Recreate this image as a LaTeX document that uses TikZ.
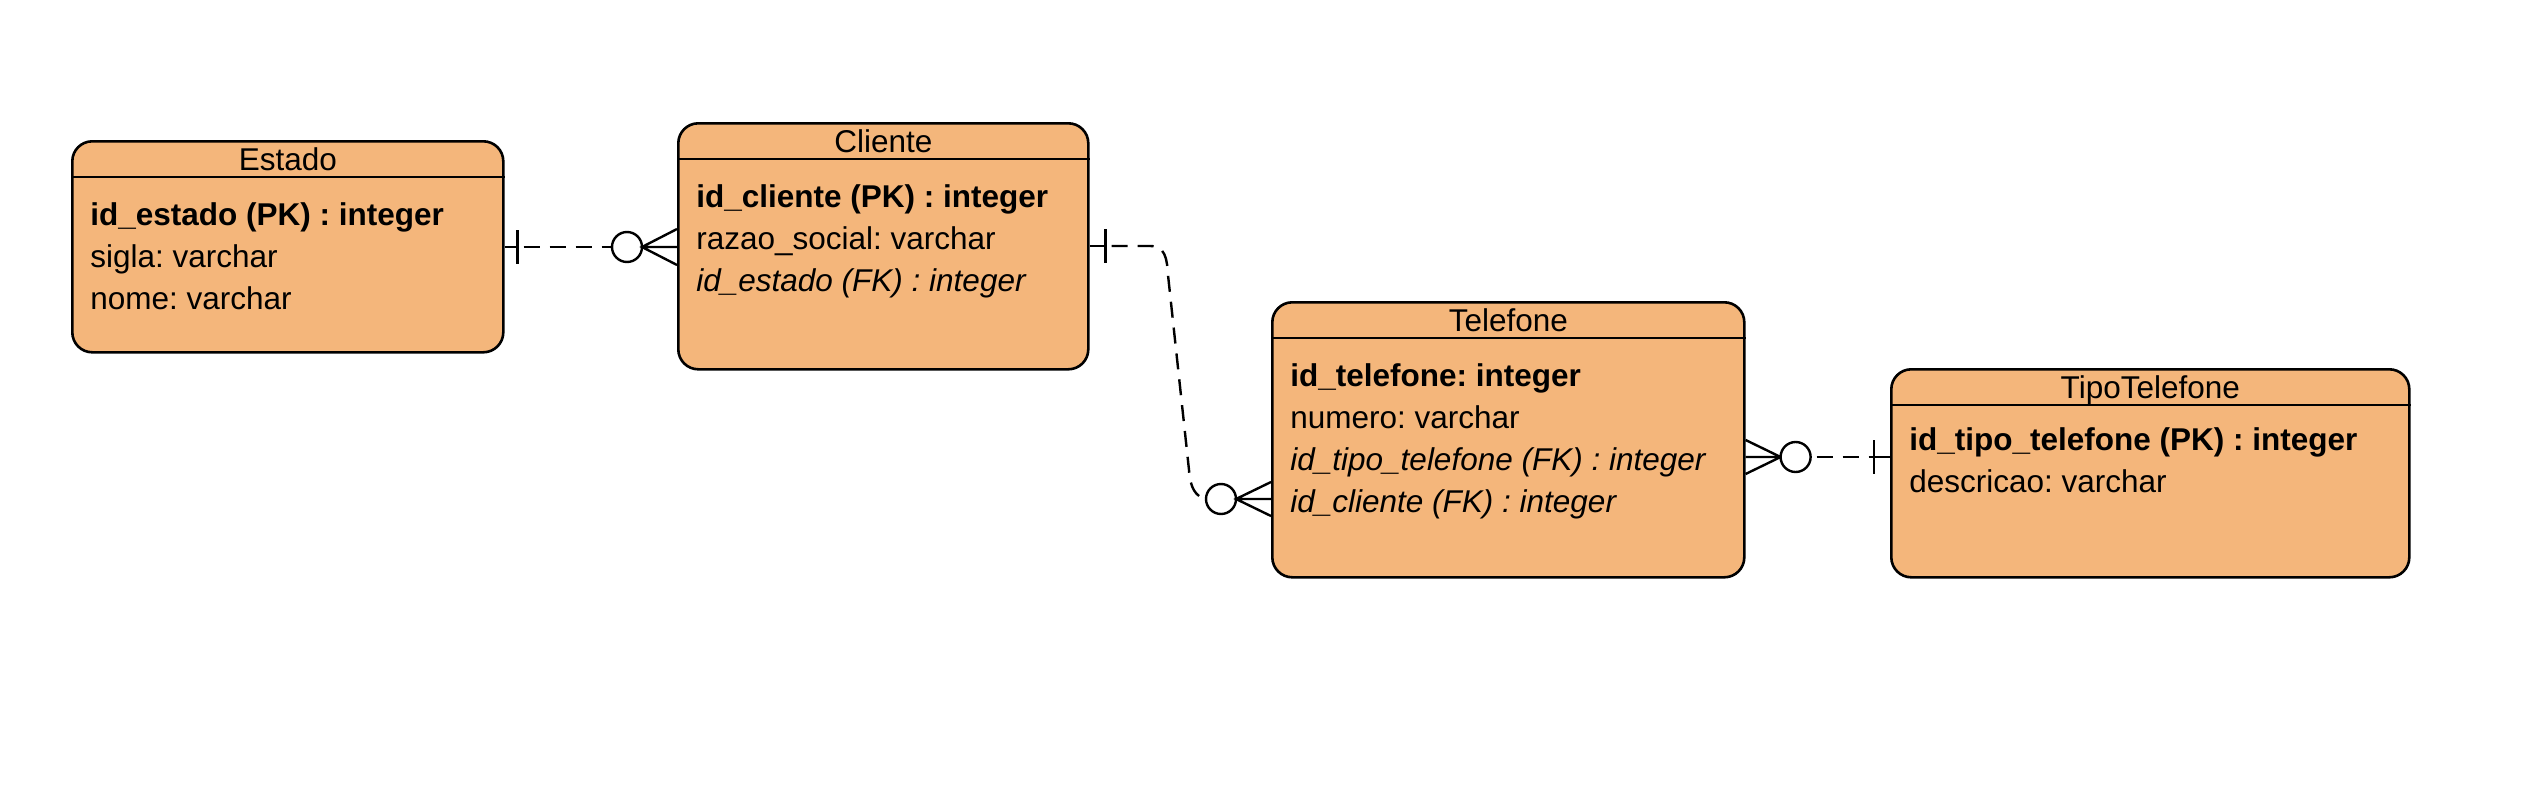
\documentclass[tikz,border=0pt]{standalone}
\usepackage{fontspec}
\setmainfont{Liberation Sans}
\usetikzlibrary{positioning}
\definecolor{entfill}{HTML}{F4B67B}
\frenchspacing

\begin{document}
\begin{tikzpicture}[
  x=0.5pt, y=-0.5pt,
  font=\fontsize{15.75}{21}\selectfont,
  entity/.style={rectangle, draw, rounded corners=10pt, fill=entfill, line width=1.3pt, anchor=north west, inner sep=0pt},
  sepline/.style={line width=1.3pt},
  title/.style={anchor=base, inner sep=0pt},
  attrs/.style={anchor=north west, align=left, inner sep=0pt},
  rel/.style={line width=1.2pt},
  reldash/.style={rel, dash pattern=on 8pt off 5pt, dash phase=10pt}
]
  \useasboundingbox (0,0) rectangle (2522,787);
  % entidades
  \node[entity, minimum width=215.5pt, minimum height=105.5pt] (estado) at (71,140) {};
  \node[entity, minimum width=205pt, minimum height=123pt] (cliente) at (677,122) {};
  \node[entity, minimum width=236pt, minimum height=137.5pt] (telefone) at (1271,301) {};
  \node[entity, minimum width=259pt, minimum height=104pt] (tipotelefone) at (1890,368) {};
  \draw[sepline] ([yshift=-18.5pt]estado.north west) -- ([yshift=-18.5pt]estado.north east);
  \draw[sepline] ([yshift=-18.5pt]cliente.north west) -- ([yshift=-18.5pt]cliente.north east);
  \draw[sepline] ([yshift=-18.5pt]telefone.north west) -- ([yshift=-18.5pt]telefone.north east);
  \draw[sepline] ([yshift=-18.5pt]tipotelefone.north west) -- ([yshift=-18.5pt]tipotelefone.north east);
  \node[title] (estado-title) at ([yshift=-15pt]estado.north) {Estado};
  \node[title] (cliente-title) at ([yshift=-15pt]cliente.north) {Cliente};
  \node[title] (telefone-title) at ([yshift=-15pt]telefone.north) {Telefone};
  \node[title] (tipotelefone-title) at ([yshift=-15pt]tipotelefone.north) {TipoTelefone};
  \node[attrs] (estado-attrs) at ([xshift=9.5pt, yshift=-31pt]estado.north west)
    {\textbf{id\_estado (PK) : integer}\\ sigla: varchar\\ nome: varchar};
  \node[attrs] (cliente-attrs) at ([xshift=9.5pt, yshift=-31pt]cliente.north west)
    {\textbf{id\_cliente (PK) : integer}\\ razao\_social: varchar\\ \textit{id\_estado (FK) : integer}};
  \node[attrs] (telefone-attrs) at ([xshift=9.5pt, yshift=-31pt]telefone.north west)
    {\textbf{id\_telefone: integer}\\ numero: varchar\\ \textit{id\_tipo\_telefone (FK) : integer}\\ \textit{id\_cliente (FK) : integer}};
  \node[attrs] (tipotelefone-attrs) at ([xshift=9.5pt, yshift=-29.5pt]tipotelefone.north west)
    {\textbf{id\_tipo\_telefone (PK) : integer}\\ descricao: varchar};
  % Estado -- Cliente
  \coordinate (ec-a) at (estado.east |- 0,247);
  \coordinate (ec-b) at (cliente.west |- 0,247);
  \draw[rel] (ec-a) -- ([xshift=6.5pt]ec-a) coordinate (ec-bar);
  \draw[rel] ([yshift=8.5pt]ec-bar) -- ([yshift=-8.5pt]ec-bar);
  \draw[reldash] (ec-bar) -- ([xshift=-32.5pt]ec-b);
  \draw[rel, fill=white] ([xshift=-25pt]ec-b) circle[radius=7.5pt];
  \draw[rel] ([yshift=9pt]ec-b) -- ([xshift=-17.5pt]ec-b) -- ([yshift=-9pt]ec-b) (ec-b) -- ([xshift=-17.5pt]ec-b);
  % Cliente -- Telefone
  \coordinate (ct-a) at (cliente.east |- 0,246);
  \coordinate (ct-b) at (telefone.west |- 0,499);
  \draw[rel] (ct-a) -- ([xshift=8pt]ct-a) coordinate (ct-bar);
  \draw[rel] ([yshift=8.5pt]ct-bar) -- ([yshift=-8.5pt]ct-bar);
  \draw[reldash] (ct-bar) -- (1150,246) .. controls (1165,246) and (1167,258) .. (1168,275)
    -- (1189,470) .. controls (1190,488) and (1196,497) .. ([xshift=-32.5pt]ct-b);
  \draw[rel, fill=white] ([xshift=-25pt]ct-b) circle[radius=7.5pt];
  \draw[rel] ([yshift=8.5pt]ct-b) -- ([xshift=-17.5pt]ct-b) -- ([yshift=-8.5pt]ct-b) (ct-b) -- ([xshift=-17.5pt]ct-b);
  % Telefone -- TipoTelefone
  \coordinate (tt-a) at (telefone.east |- 0,457);
  \coordinate (tt-b) at (tipotelefone.west |- 0,457);
  \draw[rel] ([yshift=8.5pt]tt-a) -- ([xshift=17.5pt]tt-a) -- ([yshift=-8.5pt]tt-a) (tt-a) -- ([xshift=17.5pt]tt-a);
  \draw[rel, fill=white] ([xshift=25pt]tt-a) circle[radius=7.5pt];
  \draw[reldash] ([xshift=32.5pt]tt-a) -- ([xshift=-8pt]tt-b) coordinate (tt-bar);
  \draw[rel] ([yshift=8.5pt]tt-bar) -- ([yshift=-8.5pt]tt-bar);
  \draw[rel] (tt-bar) -- (tt-b);
\end{tikzpicture}
\end{document}
